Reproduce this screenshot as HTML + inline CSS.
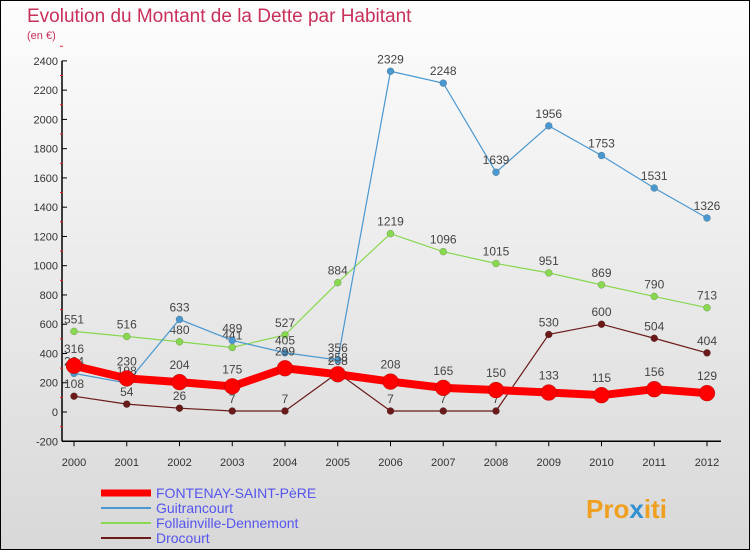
<!DOCTYPE html>
<html><head><meta charset="utf-8"><style>
body{margin:0}
#c{width:750px;height:550px;position:relative;font-family:"Liberation Sans",sans-serif;background:linear-gradient(#fdfdfd,#d8d8d8);border:1px solid #000;box-sizing:border-box;overflow:hidden}
</style></head><body>
<div id="c">
<svg id="s" width="750" height="550" xmlns="http://www.w3.org/2000/svg">
<text x="26" y="21" font-size="19" fill="#c8305a">Evolution du Montant de la Dette par Habitant</text>
<text x="26" y="38" font-size="11" fill="#c8305a">(en €)</text>
<g id="axes"></g><g id="series"></g><g id="legend"></g>
<text x="585" y="517" font-size="26" font-weight="bold" fill="#f0a020">Pro<tspan fill="#3090d0">x</tspan>iti</text>
</svg></div>
<script>
const years=[2000,2001,2002,2003,2004,2005,2006,2007,2008,2009,2010,2011,2012];
const yTicks=[-200,0,200,400,600,800,1000,1200,1400,1600,1800,2000,2200,2400];
const fontenay=[316,230,204,175,299,258,208,165,150,133,115,156,129];
const guitrancourt=[264,198,633,489,405,356,2329,2248,1639,1956,1753,1531,1326];
const follainville=[551,516,480,441,527,884,1219,1096,1015,951,869,790,713];
const drocourt=[108,54,26,7,7,268,7,7,7,530,600,504,404];
const NS="http://www.w3.org/2000/svg";
const X=i=>73+i*52.75, Y=v=>411-v*0.1463;
function el(t,a,p){const e=document.createElementNS(NS,t);for(const k in a)e.setAttribute(k,a[k]);p.appendChild(e);return e;}
const ax=document.getElementById('axes');
let l=el('line',{x1:61,y1:Y(2400),x2:61,y2:Y(-200),stroke:'#000','stroke-width':1.5},ax);


l=el('line',{x1:61,y1:Y(-200),x2:720,y2:Y(-200),stroke:'#000','stroke-width':1.5},ax);


yTicks.forEach(v=>{
 el('line',{x1:61,y1:Y(v),x2:66,y2:Y(v),stroke:'#000'},ax);
 el('line',{x1:59,y1:Y(v+100),x2:62,y2:Y(v+100),stroke:'#e02020'},ax);
 const t=el('text',{x:57,y:Y(v)+4,'font-size':11,'text-anchor':'end',fill:'#333'},ax);t.textContent=v;
 
 
});
years.forEach((y,i)=>{
 el('line',{x1:X(i),y1:Y(-200),x2:X(i),y2:Y(-200)+5,stroke:'#000'},ax);
 const t=el('text',{x:X(i),y:465,'font-size':11,'text-anchor':'middle',fill:'#333'},ax);t.textContent=y;
 
 
});
const sg=document.getElementById('series');
function draw(data,color,w,r,name,lo){
 const g=el('g',{},sg);
 
 
 el('polyline',{points:data.map((v,i)=>X(i)+','+Y(v)).join(' '),fill:'none',stroke:color,'stroke-width':w},g);
 data.forEach((v,i)=>{
  const c=el('circle',{cx:X(i),cy:Y(v),r:r,fill:color,stroke:'rgba(0,0,0,0.3)','stroke-width':0.5},g);
  
  
  const t=el('text',{x:X(i),y:Y(v)-(lo?r+5:8),'font-size':12,'text-anchor':'middle',fill:'#444'},g);t.textContent=v;
  
  
 });
}
draw(drocourt,'#6b1a1a',1.2,3.5,'drocourt-series');
draw(follainville,'#88d850',1.2,3.5,'follainville-series');
draw(guitrancourt,'#4a98d0',1.2,3.5,'guitrancourt-series');
draw(fontenay,'#ff0000',8,8,'fontenay-series',true);
const lg=document.getElementById('legend');
[['FONTENAY-SAINT-PèRE','#ff0000',7],['Guitrancourt','#4a98d0',2],['Follainville-Dennemont','#88d850',2],['Drocourt','#6b1a1a',2]].forEach((d,i)=>{
 const y=492+i*15;
 const g=el('g',{},lg);
 
 
 el('line',{x1:100,y1:y,x2:150,y2:y,stroke:d[1],'stroke-width':d[2]},g);
 const t=el('text',{x:155,y:y+5,'font-size':14,fill:'#5555ee'},g);t.textContent=d[0];
});
</script>
</body></html>
